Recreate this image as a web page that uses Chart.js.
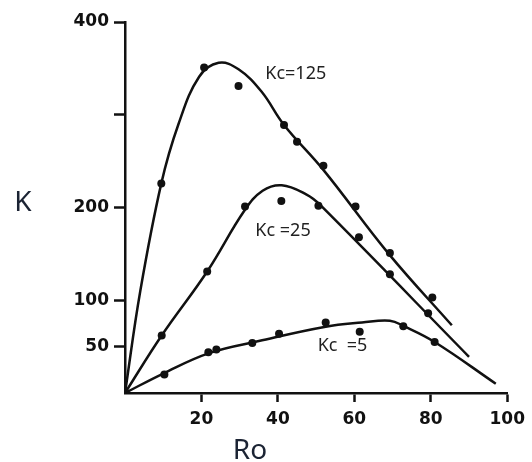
<!DOCTYPE html>
<html>
<head>
<meta charset="utf-8">
<script src="https://cdn.jsdelivr.net/npm/chart.js@4.4.0/dist/chart.umd.min.js"></script>
<style>
  html, body { margin: 0; padding: 0; background: #fff; }
  #wrap { width: 532px; height: 462px; position: relative; }
</style>
</head>
<body>
<div id="wrap"><canvas id="kChart"></canvas></div>
<script>
// measured points, one pair of arrays per Kc
var ro125 = [9.5, 20.7, 29.7, 41.6, 45.0, 51.9, 60.3, 69.3, 80.4];
var k125 = [226, 351, 331, 289, 271, 245, 201, 151, 103];
var ro25 = [9.6, 21.5, 31.4, 40.9, 50.6, 61.2, 69.3, 79.3];
var k25 = [62, 131, 201, 207, 202, 168, 128, 86];
var ro5 = [10.3, 21.8, 23.9, 33.3, 40.3, 52.5, 61.4, 72.8, 81];
var k5 = [20, 44, 47, 54, 64, 76, 66, 72, 55];

// fitted curves
var fitRo125 = [0, 4, 9.5, 14, 19.4, 24.5, 29.7, 35.7, 41.6, 52, 69, 85.5];
var fitK125 = [0, 110, 226, 290, 341, 356, 349, 325, 289, 240, 150, 73];
var fitRo25 = [0, 9.6, 21.5, 31.3, 36, 41, 47.5, 51, 90];
var fitK25 = [0, 62, 131, 197, 218, 224, 214, 203, 39];
var fitRo5 = [0, 10, 22, 35, 52.5, 62, 69.3, 73, 81, 97];
var fitK5 = [0, 21, 43, 56, 71.5, 76, 78, 72, 55, 10];

var xTicks = [20, 40, 60, 80, 100];
var yTicks = [50, 100, 200, 300, 400];
var yTickLabels = ['50', '100', '200', '', '400'];
var curveLabels = ['Kc=125', 'Kc =25', 'Kc  =5'];

var ink = '#111';

function pts(xs, ys) {
  return xs.map(function(x, i) { return { x: x, y: ys[i] }; });
}

function dots(xs, ys) {
  return {
    data: pts(xs, ys),
    showLine: false,
    pointRadius: 4,
    pointBackgroundColor: ink,
    pointBorderWidth: 0
  };
}

function curve(xs, ys) {
  return {
    data: pts(xs, ys),
    showLine: true,
    borderColor: ink,
    borderWidth: 2.5,
    pointRadius: 0,
    tension: 0.4
  };
}

// axis titles and curve labels
var textPlugin = {
  id: 'figText',
  afterDraw: function(chart) {
    var c = chart.ctx;
    var xs = chart.scales.x, ys = chart.scales.y;
    c.save();
    c.fillStyle = '#1b2333';
    c.font = '28px "Noto Sans"';
    c.textAlign = 'center';
    c.textBaseline = 'middle';
    c.fillText('K', 23, 203);
    c.textBaseline = 'alphabetic';
    c.fillText('Ro', 250, 459);

    c.fillStyle = '#222';
    c.font = '18px "Noto Sans"';
    c.textAlign = 'left';
    c.textBaseline = 'middle';
    var spots = [[36.7, 344], [34.1, 175], [50.4, 51]];
    spots.forEach(function(p, i) {
      c.fillText(curveLabels[i], xs.getPixelForValue(p[0]), ys.getPixelForValue(p[1]));
    });
    c.restore();
  }
};

var tickFont = { family: '"DejaVu Sans"', size: 17, weight: 'bold' };

new Chart(document.getElementById('kChart').getContext('2d'), {
  type: 'scatter',
  data: {
    datasets: [
      dots(ro125, k125), dots(ro25, k25), dots(ro5, k5),
      curve(fitRo125, fitK125), curve(fitRo25, fitK25), curve(fitRo5, fitK5)
    ]
  },
  options: {
    responsive: true,
    maintainAspectRatio: false,
    animation: false,
    layout: { padding: { top: 22, right: 20, left: 0, bottom: 0 } },
    plugins: {
      legend: { display: false },
      tooltip: { enabled: false }
    },
    scales: {
      x: {
        type: 'linear',
        min: 0,
        max: 100,
        afterFit: function(s) { s.height = 69; },
        afterBuildTicks: function(s) {
          s.ticks = xTicks.map(function(v) { return { value: v }; });
        },
        grid: { drawOnChartArea: false, tickLength: 9, tickWidth: 2.5, tickColor: ink },
        border: { color: ink, width: 2.5 },
        ticks: { color: ink, font: tickFont, padding: 7, maxRotation: 0 }
      },
      y: {
        type: 'linear',
        min: 0,
        max: 400,
        afterFit: function(s) { s.width = 125; },
        afterBuildTicks: function(s) {
          s.ticks = yTicks.map(function(v) { return { value: v }; });
        },
        grid: { drawOnChartArea: false, tickLength: 11, tickWidth: 2.5, tickColor: ink },
        border: { color: ink, width: 2.5 },
        ticks: {
          color: ink,
          font: tickFont,
          padding: 5,
          callback: function(v) {
            var i = yTicks.indexOf(v);
            return i >= 0 ? yTickLabels[i] : '';
          }
        }
      }
    }
  },
  plugins: [textPlugin]
});
</script>
</body>
</html>
